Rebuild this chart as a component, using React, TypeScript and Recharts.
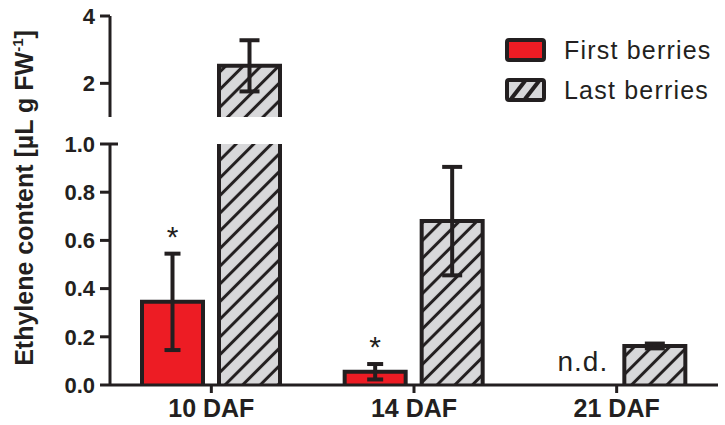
import React from 'react';
import { BarChart, Bar, XAxis, YAxis, ErrorBar, LabelList, Legend } from 'recharts';

const stages = ['10 DAF', '14 DAF', '21 DAF'];
const firstBerries = [0.345, 0.055, null];
const firstErr = [0.2, 0.032, null];
const lastBerries = [2.52, 0.68, 0.162];
const lastErr = [0.76, 0.225, 0.01];
const firstNotes = ['*', '*', 'n.d.'];
const lowerTicks = [0, 0.2, 0.4, 0.6, 0.8, 1.0];
const upperTicks = [1, 2, 4];

const data = stages.map((stage, i) => ({
  stage,
  first: firstBerries[i],
  firstErr: firstErr[i],
  last: lastBerries[i],
  lastErr: lastErr[i],
  note: firstNotes[i],
}));

const INK = '#231f20';
const RED = '#ed1c24';
const GRAY = '#d8d8da';
const FONT = '"Liberation Sans", Arial, Helvetica, sans-serif';
const BAR_SIZE = 61;
const BAR_GAP = 16;

// bar drawn with open bottom so the broken axis looks right
const BarShape = (props: any) => {
  const { x, y, width, height, fill } = props;
  if (!height || !isFinite(y)) return null;
  const base = y + height;
  return (
    <g>
      {height > 0 && <rect x={x} y={y} width={width} height={height} fill={fill} />}
      <path d={`M${x},${base}V${y}H${x + width}V${base}`} fill="none" stroke={INK} strokeWidth={4} />
    </g>
  );
};

const LowerTick = (props: any) => {
  const { x, y, payload } = props;
  const v = payload.value;
  return (
    <g>
      <line x1={x - 10} x2={v === 1 ? x + 8 : x} y1={y} y2={y} stroke={INK} strokeWidth={3} />
      <text x={x - 15} y={y} dy="0.355em" textAnchor="end" fill={INK} fontSize={22} fontWeight="bold" fontFamily={FONT}>
        {v.toFixed(1)}
      </text>
    </g>
  );
};

const UpperTick = (props: any) => {
  const { x, y, payload } = props;
  const v = payload.value;
  if (v === 1) return <line x1={x - 3} x2={x + 8} y1={y} y2={y} stroke={INK} strokeWidth={3} />;
  return (
    <g>
      <line x1={x - 10} x2={x} y1={y} y2={y} stroke={INK} strokeWidth={3} />
      <text x={x - 15} y={y} dy="0.355em" textAnchor="end" fill={INK} fontSize={22} fontWeight="bold" fontFamily={FONT}>
        {v}
      </text>
    </g>
  );
};

// asterisks above the first-berries error bars
const renderStar = (props: any) => {
  const { x, y, width, height, value, index } = props;
  if (!value || firstBerries[index] == null) return null;
  const errTop = y - (firstErr[index]! / firstBerries[index]!) * height;
  return (
    <text x={x + width / 2} y={errTop - 7} textAnchor="middle" fill={INK} fontSize={30} fontFamily={FONT}>
      {value}
    </text>
  );
};

// "n.d." sits in the empty first-berries slot, left of the last-berries bar
const renderNd = (props: any) => {
  const { x, y, height, value, index } = props;
  if (!value || firstBerries[index] != null) return null;
  const base = y + height;
  const cx = x - BAR_GAP - BAR_SIZE / 2 + 5;
  return (
    <text x={cx} y={base - 14} textAnchor="middle" fill={INK} fontSize={28} letterSpacing={1} fontFamily={FONT}>
      {value}
    </text>
  );
};

const YLabel = () => (
  <text x={33} y={198} transform="rotate(-90 33 198)" textAnchor="middle" fill={INK} fontSize={25} fontWeight="bold" fontFamily={FONT}>
    Ethylene content [µL g FW<tspan fontSize={15} dy={-10}>-1</tspan><tspan dy={10}>]</tspan>
  </text>
);

const Swatch = ({ hatched }: { hatched: boolean }) => (
  <svg width={41} height={24} style={{ display: 'block' }}>
    <rect x={2} y={2} width={37} height={20} rx={2} fill={hatched ? GRAY : RED} stroke={INK} strokeWidth={4} />
    {hatched && (
      <g stroke={INK} strokeWidth={4}>
        <line x1={6} y1={21} x2={20} y2={3} />
        <line x1={20} y1={21} x2={34} y2={3} />
      </g>
    )}
  </svg>
);

const renderLegend = (props: any) => (
  <div style={{ fontFamily: FONT, fontSize: 25, letterSpacing: 1.2, color: INK }}>
    {(props.payload || []).map((p: any) => (
      <div key={p.value} style={{ display: 'flex', alignItems: 'center', height: 40 }}>
        <Swatch hatched={p.dataKey === 'last'} />
        <span style={{ marginLeft: 18 }}>{p.value}</span>
      </div>
    ))}
  </div>
);

const App: React.FC = () => {
  return (
    <div style={{ position: 'absolute', left: 0, top: 0, width: 725, height: 425, background: '#fff' }}>
      <svg width={0} height={0} style={{ position: 'absolute' }}>
        <defs>
          <pattern id="hatch" patternUnits="userSpaceOnUse" width={12.5} height={12.5} patternTransform="rotate(45)">
            <rect width={12.5} height={12.5} fill={GRAY} />
            <line x1={6.25} y1={0} x2={6.25} y2={12.5} stroke={INK} strokeWidth={3} />
          </pattern>
        </defs>
      </svg>
      <div style={{ position: 'absolute', left: 0, top: 0 }}>
        <BarChart width={725} height={425} data={data} barSize={BAR_SIZE} barGap={BAR_GAP} margin={{ top: 144, right: 7, bottom: 10, left: 0 }}>
          <XAxis
            dataKey="stage"
            height={30}
            axisLine={{ stroke: INK, strokeWidth: 3 }}
            tickLine={{ stroke: INK, strokeWidth: 3 }}
            tickSize={8}
            tickMargin={6}
            tick={{ fill: INK, fontSize: 25, fontWeight: 'bold', fontFamily: FONT }}
          />
          <YAxis
            width={110}
            domain={[0, 1]}
            ticks={lowerTicks}
            allowDataOverflow
            axisLine={{ stroke: INK, strokeWidth: 3 }}
            tickLine={false}
            tickSize={0}
            tickMargin={0}
            tick={<LowerTick />}
            label={{ content: () => <YLabel /> }}
          />
          <Legend
            layout="vertical"
            align="center"
            verticalAlign="middle"
            wrapperStyle={{ left: 505, top: 30, width: 220 }}
            content={renderLegend}
          />
          <Bar dataKey="first" name="First berries" fill={RED} shape={<BarShape />} isAnimationActive={false}>
            <ErrorBar dataKey="firstErr" direction="y" width={8} stroke={INK} strokeWidth={4} />
            <LabelList dataKey="note" content={renderStar} />
          </Bar>
          <Bar dataKey="last" name="Last berries" fill="url(#hatch)" shape={<BarShape />} isAnimationActive={false}>
            <ErrorBar dataKey="lastErr" direction="y" width={10} stroke={INK} strokeWidth={4} />
            <LabelList dataKey="note" content={renderNd} />
          </Bar>
        </BarChart>
      </div>
      <div style={{ position: 'absolute', left: 0, top: 0 }}>
        <BarChart width={725} height={118} data={data} barSize={BAR_SIZE} barGap={BAR_GAP} margin={{ top: 16, right: 7, bottom: 1, left: 0 }}>
          <XAxis dataKey="stage" hide />
          <YAxis
            width={110}
            domain={[1, 4]}
            ticks={upperTicks}
            allowDataOverflow
            axisLine={{ stroke: INK, strokeWidth: 3 }}
            tickLine={false}
            tickSize={0}
            tickMargin={0}
            tick={<UpperTick />}
          />
          <Bar dataKey="first" name="First berries" fill={RED} shape={<BarShape />} isAnimationActive={false}>
            <ErrorBar dataKey="firstErr" direction="y" width={8} stroke={INK} strokeWidth={4} />
          </Bar>
          <Bar dataKey="last" name="Last berries" fill="url(#hatch)" shape={<BarShape />} isAnimationActive={false}>
            <ErrorBar dataKey="lastErr" direction="y" width={10} stroke={INK} strokeWidth={4} />
          </Bar>
        </BarChart>
      </div>
    </div>
  );
};

export default App;
